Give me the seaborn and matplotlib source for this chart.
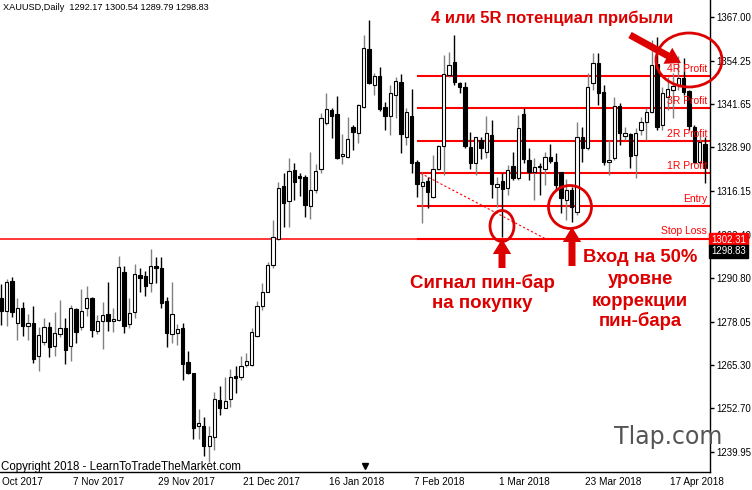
import numpy as np
import matplotlib
matplotlib.use("Agg")
import matplotlib.pyplot as plt
import seaborn as sns
from matplotlib.patches import Ellipse
from matplotlib import transforms

sns.set_style("white")
plt.rcParams['font.family'] = ['Liberation Sans', 'DejaVu Sans']

# ---------------- data ----------------
opens = [1284.9, 1281.2, 1289.9, 1277.6, 1281.9, 1276.8, 1277.6, 1268.1, 1272.2, 1276.6,
         1270.9, 1274.5, 1276.3, 1270.9, 1281.6, 1276.4, 1281.9, 1284.8, 1275.3, 1278.2,
         1280.2, 1278.1, 1278.5, 1292.4, 1277.3, 1280.9, 1291.6, 1291.3, 1289.3, 1294.2,
         1293.6, 1284.1, 1274.5, 1274.7, 1276.3, 1266.2, 1263.0, 1247.6, 1247.6, 1241.7,
         1244.4, 1255.1, 1252.7, 1255.3, 1262.2, 1261.8, 1265.5, 1265.4, 1273.9, 1282.6,
         1286.8, 1294.6, 1302.1, 1317.6, 1313.3, 1322.3, 1320.7, 1320.4, 1311.8, 1316.5,
         1322.5, 1336.1, 1339.8, 1338.6, 1326.5, 1326.2, 1335.0, 1333.0, 1340.8, 1357.6,
         1347.1, 1349.9, 1340.8, 1338.2, 1344.2, 1348.1, 1332.0, 1338.2, 1324.7, 1317.7,
         1319.1, 1314.5, 1322.5, 1329.3, 1350.1, 1353.8, 1347.8, 1346.5, 1329.1, 1324.5,
         1331.1, 1327.7, 1332.6, 1317.4, 1319.1, 1317.0, 1323.5, 1320.1, 1338.7, 1325.2,
         1321.8, 1323.6, 1322.5, 1326.0, 1324.6, 1321.6, 1313.6, 1316.5, 1310.1, 1331.9,
         1328.7, 1347.6, 1353.5, 1345.2, 1324.6, 1325.9, 1341.0, 1332.3, 1332.7, 1326.7,
         1334.0, 1336.2, 1339.2, 1353.2, 1335.5, 1343.7, 1345.7, 1347.1, 1349.1, 1345.5,
         1335.0, 1324.7, 1329.9]
highs = [1289.0, 1290.5, 1291.0, 1284.8, 1283.7, 1280.2, 1282.7, 1276.6, 1279.2, 1278.0,
         1280.9, 1284.4, 1279.0, 1282.9, 1281.9, 1287.6, 1288.5, 1285.2, 1280.0, 1283.7,
         1289.5, 1281.9, 1297.2, 1294.4, 1284.8, 1294.8, 1293.6, 1292.9, 1299.2, 1297.0,
         1296.8, 1285.3, 1289.5, 1277.4, 1277.5, 1269.5, 1263.0, 1252.5, 1250.3, 1247.6,
         1257.4, 1259.3, 1261.9, 1264.2, 1265.2, 1268.1, 1268.9, 1276.3, 1284.1, 1289.2,
         1295.5, 1307.7, 1318.9, 1321.4, 1325.9, 1324.3, 1321.4, 1320.8, 1327.7, 1324.1,
         1338.9, 1344.7, 1340.3, 1343.9, 1332.8, 1337.9, 1335.5, 1341.5, 1361.7, 1366.1,
         1350.6, 1352.5, 1342.3, 1347.1, 1349.6, 1350.3, 1340.3, 1345.9, 1325.1, 1321.8,
         1320.4, 1326.7, 1329.6, 1355.9, 1356.9, 1361.7, 1348.1, 1348.1, 1333.5, 1332.0,
         1331.9, 1338.1, 1336.9, 1320.4, 1321.4, 1323.8, 1327.7, 1338.4, 1340.3, 1328.6,
         1325.7, 1324.3, 1327.7, 1329.9, 1327.2, 1321.8, 1319.7, 1317.4, 1336.4, 1335.0,
         1350.6, 1356.6, 1356.6, 1347.1, 1331.1, 1343.7, 1341.8, 1335.0, 1333.2, 1334.5,
         1337.9, 1340.3, 1360.3, 1361.3, 1346.6, 1349.6, 1350.6, 1355.6, 1354.9, 1345.7,
         1335.5, 1332.6, 1332.0]
lows = [1277.0, 1276.8, 1279.5, 1272.7, 1273.8, 1272.7, 1265.9, 1263.7, 1271.2, 1267.8,
        1268.0, 1273.6, 1265.6, 1266.5, 1271.7, 1275.6, 1279.7, 1273.6, 1274.4, 1270.0,
        1275.4, 1275.0, 1278.3, 1274.6, 1276.3, 1279.0, 1286.8, 1285.6, 1286.8, 1289.2,
        1281.9, 1270.7, 1271.9, 1271.2, 1261.0, 1262.7, 1243.9, 1243.9, 1238.9, 1237.1,
        1240.5, 1250.8, 1252.7, 1253.0, 1257.1, 1261.0, 1264.9, 1265.2, 1273.6, 1281.4,
        1286.6, 1293.8, 1301.9, 1305.8, 1305.8, 1313.6, 1314.8, 1308.7, 1308.0, 1315.7,
        1321.4, 1335.5, 1331.6, 1325.5, 1324.1, 1325.8, 1328.2, 1330.1, 1340.3, 1347.4,
        1344.2, 1339.6, 1334.0, 1332.5, 1337.4, 1327.2, 1329.6, 1321.4, 1314.5, 1306.9,
        1311.1, 1314.0, 1322.3, 1320.9, 1349.6, 1347.1, 1344.7, 1328.8, 1322.5, 1320.9,
        1325.4, 1325.7, 1314.1, 1311.6, 1302.8, 1315.0, 1319.4, 1319.4, 1324.3, 1319.4,
        1313.6, 1315.0, 1318.0, 1324.4, 1316.5, 1309.7, 1307.7, 1307.2, 1309.2, 1324.7,
        1328.2, 1345.7, 1341.3, 1323.8, 1320.9, 1325.2, 1329.6, 1331.1, 1322.8, 1319.9,
        1332.5, 1331.1, 1339.0, 1334.0, 1334.0, 1339.8, 1337.4, 1345.7, 1344.2, 1334.0,
        1324.4, 1323.3, 1318.4]
closes = [1281.1, 1289.7, 1280.8, 1282.1, 1276.8, 1277.6, 1267.1, 1274.1, 1276.5, 1270.7,
          1274.8, 1276.1, 1269.8, 1281.9, 1275.1, 1281.2, 1284.8, 1275.6, 1278.3, 1280.1,
          1278.2, 1278.7, 1294.1, 1276.8, 1280.5, 1292.0, 1290.9, 1288.5, 1294.2, 1293.6,
          1283.4, 1274.6, 1280.4, 1275.9, 1265.7, 1263.1, 1246.9, 1248.3, 1241.8, 1244.6,
          1255.3, 1252.7, 1254.9, 1261.9, 1261.5, 1265.2, 1266.4, 1274.9, 1282.7, 1286.8,
          1294.6, 1302.8, 1317.1, 1312.8, 1322.0, 1318.9, 1320.1, 1312.1, 1316.5, 1322.0,
          1337.6, 1340.0, 1338.2, 1325.9, 1327.0, 1331.3, 1333.5, 1341.3, 1357.9, 1347.8,
          1349.9, 1340.0, 1338.2, 1344.9, 1348.3, 1332.7, 1339.3, 1324.3, 1318.1, 1318.7,
          1315.8, 1322.5, 1329.3, 1350.3, 1353.0, 1348.1, 1346.5, 1329.3, 1324.5, 1331.9,
          1328.8, 1333.0, 1318.1, 1318.2, 1316.8, 1322.3, 1320.1, 1334.5, 1325.5, 1321.8,
          1323.3, 1323.1, 1326.2, 1325.0, 1318.0, 1314.1, 1316.5, 1311.6, 1332.0, 1328.7,
          1346.7, 1353.5, 1344.7, 1324.7, 1325.2, 1341.0, 1333.0, 1333.0, 1326.5, 1333.0,
          1336.2, 1339.3, 1353.0, 1335.0, 1344.7, 1345.9, 1346.9, 1349.1, 1345.2, 1335.2,
          1324.7, 1330.6, 1322.8]

date_labels = ["16 Oct 2017", "7 Nov 2017", "29 Nov 2017", "21 Dec 2017", "16 Jan 2018",
               "7 Feb 2018", "1 Mar 2018", "23 Mar 2018", "17 Apr 2018"]
date_bar_index = [-2, 14, 30, 46, 62, 78, 94, 110, 126]

price_ticks = [1367.00, 1354.25, 1341.65, 1328.90, 1316.15, 1303.40,
               1290.80, 1278.05, 1265.30, 1252.70, 1239.95]

level_names = ["Stop Loss", "Entry", "1R Profit", "2R Profit", "3R Profit", "4R Profit"]
level_prices = [1302.31, 1311.80, 1321.30, 1330.80, 1340.30, 1349.80]
level_start_bar = 78

stop_line_price = 1302.31
last_close = 1298.83
header = "XAUUSD,Daily  1292.17 1300.54 1289.79 1298.83"

trend_bars = [78.7, 102.3]
trend_prices = [1321.35, 1302.07]

# ---------------- figure ----------------
W, H = 752, 490
fig = plt.figure(figsize=(W / 100, H / 100), dpi=100)
AX_R, AX_B = 710, 472
ax = fig.add_axes([0, (H - AX_B) / H, AX_R / W, AX_B / H])

PITCH, X0 = 5.33, 1.3
PTOP, PPX = 1371.97, 0.29206
XL = ((0 - X0) / PITCH, (AX_R - X0) / PITCH)
YL = (PTOP - PPX * AX_B, PTOP)


def px(x, y):
    return (x - X0) / PITCH, PTOP - PPX * y


O = np.array(opens); Hh = np.array(highs); L = np.array(lows); C = np.array(closes)
idx = np.arange(len(O))
bull = C >= O

ax.vlines(idx[bull], L[bull], Hh[bull], color="#808080", lw=1.0, zorder=2)
ax.vlines(idx[~bull], L[~bull], Hh[~bull], color="black", lw=1.0, zorder=2)
bottoms = np.minimum(O, C)
heights = np.maximum(np.abs(C - O), 0.35)
ax.bar(idx, heights, bottom=bottoms, width=0.62,
       color=np.where(bull, "white", "black"), edgecolor="black", linewidth=0.8, zorder=3)

RED = "#ff0000"
DRED = "#dd0000"
ax.axhline(stop_line_price, color=RED, lw=1.1, zorder=1)
ax.hlines(level_prices, level_start_bar, XL[1], color=RED, lw=1.5, zorder=1)
for nm, p in zip(level_names, level_prices):
    ax.annotate(nm, (XL[1], p), xytext=(-2, 1.5), textcoords="offset points",
                ha="right", va="bottom", color=RED, fontsize=7.5, zorder=4)

sns.lineplot(x=trend_bars, y=trend_prices, ax=ax, color=RED, lw=0.8,
             linestyle=(0, (2, 2)), zorder=4)

for (cx, cy, w, h) in [(502, 226, 24, 31), (570, 207, 43, 43), (689, 60, 66, 54)]:
    dx, dy = px(cx, cy)
    e = Ellipse((dx, dy), w / PITCH, h * PPX, fill=False, edgecolor=DRED, lw=2,
                zorder=5, clip_on=False)
    ax.add_patch(e)

arrow_style = "simple,head_width=1.1,head_length=0.9,tail_width=0.42"
for (x1, y1, x2, y2) in [(502, 268, 502, 239), (572, 266, 572, 227), (630, 35, 681, 63)]:
    ax.annotate("", xy=px(x2, y2), xytext=px(x1, y1),
                arrowprops=dict(arrowstyle=arrow_style, color=DRED, lw=0,
                                mutation_scale=12, shrinkA=0, shrinkB=0),
                zorder=6, annotation_clip=False)

ax.set_xlim(*XL)
ax.set_ylim(*YL)

# axes styling
for s in ["left", "top"]:
    ax.spines[s].set_visible(False)
for s in ["right", "bottom"]:
    ax.spines[s].set_color("black")
    ax.spines[s].set_linewidth(1.0)
ax.yaxis.tick_right()
ax.set_yticks(price_ticks)
ax.set_yticklabels([f"{v:.2f}" for v in price_ticks])
ax.tick_params(axis="y", direction="out", length=3, width=1, pad=1.5, labelsize=6.9,
               colors="black")
vis = [b for b in date_bar_index if XL[0] <= b <= XL[1]]
ax.set_xticks(vis)
ax.set_xticklabels([""] * len(vis))
ax.tick_params(axis="x", direction="out", length=4, width=1, colors="black")
ax.grid(False)

trx = transforms.offset_copy(transforms.blended_transform_factory(ax.transData, fig.transFigure),
                             fig=fig, x=-3, y=0, units="dots")
for b, lab in zip(date_bar_index, date_labels):
    ax.text(b, 1 - 482 / H, lab, transform=trx, ha="left", va="center",
            fontsize=7.2, color="black", clip_on=False)


def ftext(x, y, s, **kw):
    fig.text(x / W, 1 - y / H, s, **kw)


ftext(3, 7, header, ha="left", va="center", fontsize=6.6, color="black")
ftext(1, 467, "Copyright 2018 - LearnToTradeTheMarket.com", ha="left", va="center",
      fontsize=8.3, color="black")
ftext(668, 437, "Tlap.com", ha="center", va="center", fontsize=17,
      family=["DejaVu Sans"], color="#555555")

ftext(552, 18, "4 или 5R потенциал прибыли", ha="center", va="center",
      fontsize=12, fontweight="bold", color=DRED)
for s, y in [("Сигнал пин-бар", 283), ("на покупку", 304)]:
    ftext(482, y, s, ha="center", va="center", fontsize=13.5, fontweight="bold", color=DRED)
for s, y in [("Вход на 50%", 258), ("уровне", 280), ("коррекции", 302), ("пин-бара", 321)]:
    ftext(640, y, s, ha="center", va="center", fontsize=13.3, fontweight="bold", color=DRED)

# price labels on the right axis
ftext(711, 1 + (PTOP - stop_line_price) / PPX, f"{stop_line_price:.2f}", ha="left", va="center",
      fontsize=6.9, color="white",
      bbox=dict(boxstyle="square,pad=0.2", facecolor=RED, edgecolor=RED))
ftext(711, (PTOP - last_close) / PPX + 1, f"{last_close:.2f}", ha="left", va="center",
      fontsize=6.9, color="white",
      bbox=dict(boxstyle="square,pad=0.2", facecolor="black", edgecolor="black"))

# chart-shift marker
fig.lines.append(plt.Line2D([365 / W], [1 - 466 / H], marker="v", markersize=4,
                            color="black", transform=fig.transFigure))

fig.savefig("out.png", dpi=100)
